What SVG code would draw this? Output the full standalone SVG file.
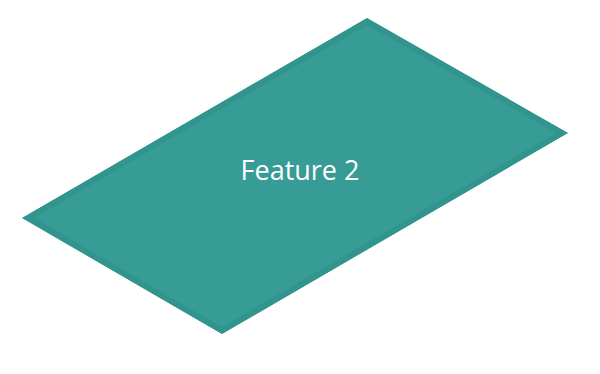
<svg xmlns="http://www.w3.org/2000/svg" width="600" height="374" viewBox="0 0 600 374">
  <defs>
    <clipPath id="tileClip">
      <polygon points="367,18 568,133 222,334 22,218"/>
    </clipPath>
    <style>
      .tile { fill: #389c96; stroke: #31958e; stroke-width: 12; stroke-linejoin: miter; }
      .label { font-family: "Open Sans", "Liberation Sans", sans-serif; font-size: 27px; fill: #ffffff; text-anchor: middle; }
    </style>
  </defs>
  <rect width="600" height="374" fill="#ffffff"/>
  <g id="feature-2">
    <polygon class="tile" points="367,18 568,133 222,334 22,218" clip-path="url(#tileClip)"/>
    <text class="label" x="300" y="180">Feature 2</text>
  </g>
  <g id="connectors"/>
</svg>
